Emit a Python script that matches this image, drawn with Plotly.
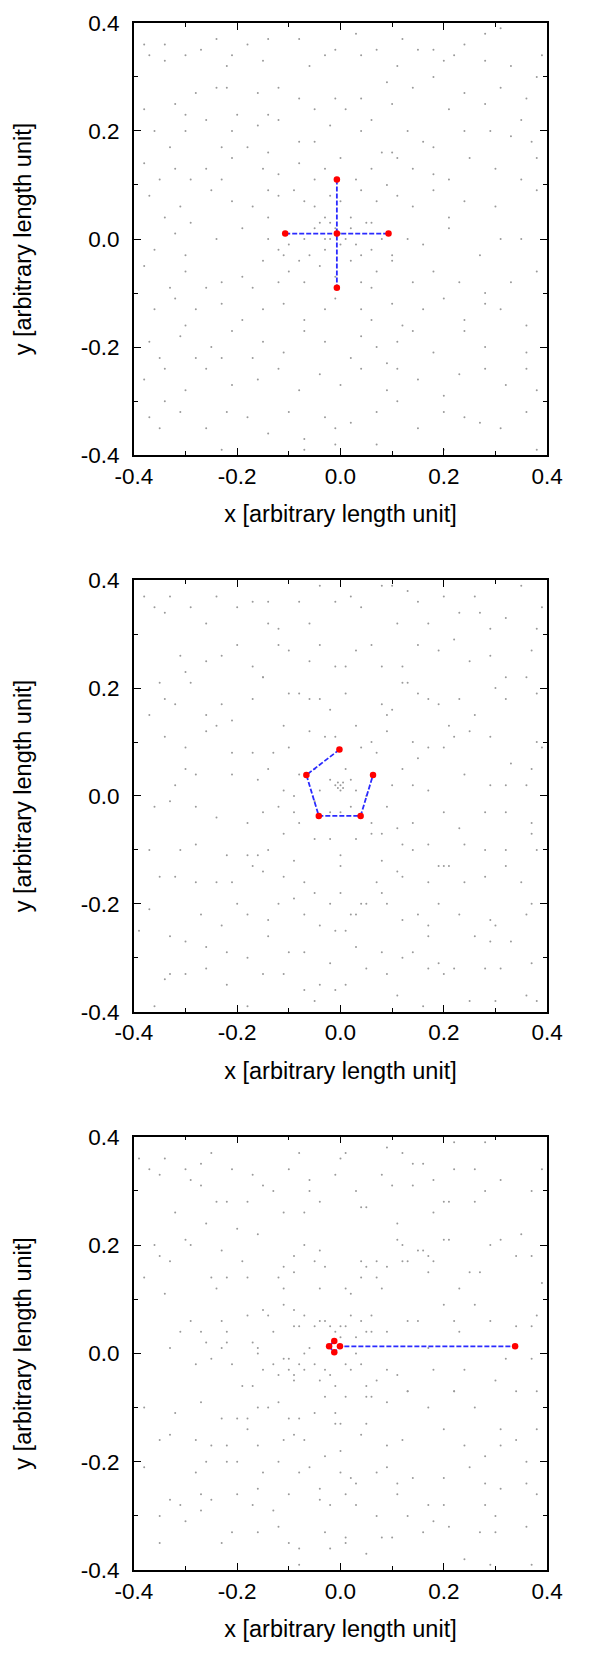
import plotly.graph_objects as go

# ---------------- data ----------------
tick_vals = [-0.4, -0.2, 0.0, 0.2, 0.4]
tick_text = ["-0.4", "-0.2", "0.0", "0.2", "0.4"]
minor_vals = [-0.3, -0.1, 0.1, 0.3]
x_title = "x [arbitrary length unit]"
y_title = "y [arbitrary length unit]"

# red points and the paths (index sequences) joining them with dashed lines
pts1_x = [-0.107, -0.007, 0.093, -0.007, -0.007]
pts1_y = [0.010, 0.010, 0.010, 0.110, -0.090]
path1 = [[0, 1, 2], [3, 1, 4]]

pts2_x = [-0.002, -0.066, -0.042, 0.039, 0.063]
pts2_y = [0.086, 0.039, -0.037, -0.037, 0.039]
path2 = [[0, 1, 2, 3, 4]]

pts3_x = [-0.012, -0.022, -0.012, -0.001, 0.338]
pts3_y = [0.023, 0.013, 0.002, 0.013, 0.013]
path3 = [[0, 1, 2, 3, 4]]

# background particles (gray dots), panel 1
dots1 = [
    (-0.38, 0.36), (-0.34, 0.36), (-0.27, 0.35), (-0.24, 0.37), (-0.21, 0.34), (-0.18, 0.36), (-0.14, 0.37),
    (-0.08, 0.37), (-0.01, 0.35), (0.03, 0.38), (0.07, 0.35), (0.12, 0.37), (0.15, 0.35), (0.18, 0.35),
    (0.24, 0.36), (0.28, 0.38), (0.31, 0.39), (0.39, 0.34), (-0.37, 0.34), (-0.34, 0.33), (-0.30, 0.34),
    (-0.22, 0.32), (-0.15, 0.33), (-0.06, 0.32), (-0.03, 0.34), (0.04, 0.34), (0.11, 0.32), (0.20, 0.33),
    (0.22, 0.34), (0.28, 0.33), (0.38, 0.30), (0.33, 0.32),
    (-0.24, 0.28), (-0.22, 0.28), (-0.28, 0.27), (-0.32, 0.25), (-0.16, 0.27), (-0.12, 0.28), (-0.08, 0.26),
    (-0.01, 0.26), (0.04, 0.26), (0.09, 0.29), (0.14, 0.28), (0.18, 0.30), (0.24, 0.27), (0.31, 0.28),
    (0.36, 0.26), (-0.20, 0.23), (-0.14, 0.23), (-0.05, 0.24), (0.01, 0.24), (0.06, 0.22), (0.10, 0.25),
    (0.21, 0.24), (0.28, 0.25), (0.35, 0.22), (-0.30, 0.23), (-0.38, 0.24),
    (-0.30, 0.20), (-0.26, 0.22), (-0.21, 0.20), (-0.16, 0.21), (-0.12, 0.22), (-0.08, 0.18), (-0.05, 0.18),
    (-0.02, 0.21), (0.04, 0.20), (0.08, 0.16), (0.10, 0.16), (0.13, 0.20), (0.16, 0.18), (0.18, 0.17),
    (0.24, 0.20), (0.29, 0.20), (0.33, 0.19), (0.37, 0.18), (-0.36, 0.20), (-0.33, 0.17), (-0.23, 0.17),
    (-0.18, 0.17), (-0.14, 0.16),
    (-0.38, 0.14), (-0.32, 0.13), (-0.26, 0.13), (-0.23, 0.11), (-0.21, 0.15), (-0.15, 0.13), (-0.12, 0.12),
    (-0.08, 0.14), (-0.05, 0.11), (-0.03, 0.13), (0.00, 0.15), (0.03, 0.11), (0.06, 0.13), (0.09, 0.10),
    (0.11, 0.15), (0.14, 0.13), (0.18, 0.12), (0.21, 0.11), (0.25, 0.15), (0.30, 0.13), (0.35, 0.11),
    (0.38, 0.15), (-0.35, 0.11), (-0.29, 0.11),
    (-0.37, 0.08), (-0.31, 0.06), (-0.25, 0.09), (-0.21, 0.07), (-0.17, 0.06), (-0.14, 0.04), (-0.12, 0.08),
    (-0.09, 0.09), (-0.07, 0.07), (-0.05, 0.06), (-0.03, 0.04), (-0.02, 0.08), (0.00, 0.07), (0.02, 0.04),
    (0.04, 0.09), (0.06, 0.03), (0.07, 0.07), (0.11, 0.08), (0.14, 0.06), (0.18, 0.09), (0.21, 0.04),
    (0.24, 0.07), (0.30, 0.06), (0.38, 0.09), (-0.34, 0.04), (-0.29, 0.03), (-0.14, 0.09),
    (-0.32, 0.01), (-0.24, 0.00), (-0.19, 0.02), (-0.14, 0.00), (-0.12, -0.02), (-0.10, -0.01), (-0.07, 0.00),
    (-0.06, -0.03), (-0.05, 0.02), (-0.03, 0.00), (-0.03, -0.02), (0.00, -0.01), (0.02, 0.02), (0.04, -0.03),
    (0.05, 0.03), (0.08, 0.00), (0.10, -0.03), (0.13, 0.00), (0.16, -0.01), (0.21, 0.02), (0.27, -0.03),
    (0.31, 0.00), (0.35, 0.00), (-0.30, -0.03), (-0.36, -0.02), (-0.08, -0.04), (-0.11, -0.03), (-0.02, 0.03),
    (0.00, 0.01), (0.03, -0.01), (0.06, -0.02), (-0.01, 0.02), (-0.02, 0.00), (0.01, 0.00), (-0.04, 0.03),
    (-0.38, -0.05), (-0.30, -0.06), (-0.23, -0.08), (-0.19, -0.07), (-0.15, -0.04), (-0.12, -0.08),
    (-0.10, -0.06), (-0.07, -0.08), (-0.04, -0.05), (-0.01, -0.07), (0.02, -0.04), (0.04, -0.08),
    (0.07, -0.06), (0.10, -0.04), (0.14, -0.08), (0.18, -0.06), (0.23, -0.08), (0.28, -0.10), (0.33, -0.08),
    (0.38, -0.06), (-0.33, -0.09), (-0.26, -0.09), (-0.17, -0.09), (0.06, -0.09),
    (-0.36, -0.13), (-0.32, -0.11), (-0.28, -0.13), (-0.23, -0.12), (-0.19, -0.15), (-0.15, -0.13),
    (-0.11, -0.12), (-0.07, -0.15), (-0.03, -0.13), (-0.01, -0.11), (0.04, -0.13), (0.06, -0.15),
    (0.10, -0.12), (0.12, -0.16), (0.16, -0.13), (0.20, -0.11), (0.24, -0.15), (0.28, -0.12), (0.31, -0.13),
    (0.36, -0.16), (-0.30, -0.16),
    (-0.37, -0.19), (-0.31, -0.18), (-0.28, -0.22), (-0.25, -0.20), (-0.21, -0.17), (-0.15, -0.19),
    (-0.11, -0.21), (-0.07, -0.17), (-0.03, -0.19), (0.02, -0.22), (0.04, -0.18), (0.07, -0.20),
    (0.11, -0.19), (0.14, -0.17), (0.18, -0.21), (0.24, -0.17), (0.28, -0.20), (0.36, -0.21), (-0.35, -0.22),
    (-0.23, -0.22), (-0.17, -0.22), (0.09, -0.23),
    (-0.38, -0.26), (-0.34, -0.24), (-0.30, -0.28), (-0.26, -0.24), (-0.21, -0.27), (-0.16, -0.26),
    (-0.12, -0.24), (-0.08, -0.28), (-0.04, -0.25), (0.00, -0.27), (0.04, -0.24), (0.09, -0.28),
    (0.11, -0.24), (0.15, -0.26), (0.20, -0.29), (0.23, -0.25), (0.28, -0.24), (0.32, -0.27), (0.36, -0.24),
    (0.38, -0.28), (-0.34, -0.30),
    (-0.37, -0.33), (-0.31, -0.32), (-0.26, -0.35), (-0.22, -0.32), (-0.18, -0.33), (-0.14, -0.36),
    (-0.10, -0.32), (-0.07, -0.37), (-0.03, -0.33), (-0.01, -0.35), (0.02, -0.34), (0.07, -0.32),
    (0.11, -0.30), (0.15, -0.35), (0.20, -0.32), (0.24, -0.33), (0.27, -0.34), (0.31, -0.35), (0.36, -0.32),
    (0.38, -0.39), (-0.35, -0.35), (-0.23, -0.39), (-0.07, -0.39), (-0.01, -0.38), (0.07, -0.38), (0.20, -0.39),
]

# background particles, panel 2
dots2 = [
    (-0.38, 0.37), (-0.33, 0.37), (-0.36, 0.35), (-0.34, 0.34), (-0.29, 0.35), (-0.26, 0.32), (-0.24, 0.37),
    (-0.20, 0.35), (-0.17, 0.36), (-0.14, 0.36), (-0.14, 0.32), (-0.12, 0.31), (-0.08, 0.36), (-0.06, 0.32),
    (-0.04, 0.39), (-0.01, 0.36), (0.02, 0.37), (0.04, 0.35), (0.08, 0.39), (0.10, 0.39), (0.11, 0.32),
    (0.13, 0.38), (0.15, 0.36), (0.17, 0.32), (0.20, 0.37), (0.23, 0.34), (0.26, 0.37), (0.27, 0.34),
    (0.29, 0.31), (0.32, 0.33), (0.35, 0.39), (0.38, 0.31), (0.39, 0.35),
    (-0.31, 0.26), (-0.30, 0.23), (-0.26, 0.25), (-0.23, 0.26), (-0.20, 0.28), (-0.17, 0.24), (-0.15, 0.22),
    (-0.12, 0.28), (-0.10, 0.27), (-0.06, 0.25), (-0.04, 0.28), (-0.01, 0.24), (0.01, 0.24), (0.03, 0.27),
    (0.06, 0.28), (0.08, 0.24), (0.12, 0.24), (0.15, 0.28), (0.19, 0.27), (0.22, 0.29), (0.25, 0.25),
    (0.29, 0.26), (0.32, 0.22), (0.36, 0.22), (0.37, 0.27),
    (-0.35, 0.21), (-0.34, 0.18), (-0.32, 0.17), (-0.29, 0.21), (-0.26, 0.15), (-0.24, 0.13), (-0.23, 0.17),
    (-0.21, 0.14), (-0.17, 0.18), (-0.15, 0.22), (-0.10, 0.19), (-0.08, 0.19), (-0.06, 0.18), (-0.04, 0.18),
    (-0.02, 0.16), (0.01, 0.19), (0.03, 0.13), (0.08, 0.17), (0.09, 0.15), (0.10, 0.16), (0.12, 0.21),
    (0.13, 0.21), (0.15, 0.19), (0.17, 0.18), (0.19, 0.17), (0.21, 0.13), (0.23, 0.18), (0.26, 0.15),
    (0.30, 0.20), (0.32, 0.18), (0.38, 0.19),
    (-0.37, 0.15), (-0.34, 0.11), (-0.30, 0.09), (-0.26, 0.12), (-0.21, 0.08), (-0.17, 0.08), (-0.13, 0.08),
    (-0.11, 0.13), (-0.10, 0.09), (-0.06, 0.12), (-0.03, 0.11), (-0.01, 0.11), (0.04, 0.09), (0.06, 0.10),
    (0.07, 0.08), (0.09, 0.12), (0.14, 0.10), (0.15, 0.07), (0.17, 0.09), (0.20, 0.09), (0.22, 0.11),
    (0.25, 0.12), (0.29, 0.11), (0.33, 0.06), (0.38, 0.10), (0.39, 0.09),
    (-0.32, 0.02), (-0.30, 0.05), (-0.28, 0.04), (-0.21, 0.04), (-0.16, 0.03), (-0.14, 0.05), (-0.11, 0.01),
    (-0.09, 0.00), (-0.08, 0.04), (-0.05, 0.05), (-0.04, 0.01), (-0.02, 0.03), (-0.01, 0.02), (0.00, 0.02),
    (0.00, 0.01), (0.01, 0.05), (0.02, 0.03), (0.03, 0.01), (0.05, 0.00), (0.10, 0.02), (0.12, 0.05),
    (0.14, 0.02), (0.17, 0.01), (0.24, 0.04), (0.29, 0.02), (0.32, 0.02), (0.36, 0.02), (0.37, 0.05),
    (-0.005, 0.015), (0.005, 0.025), (-0.005, 0.025), (0.005, 0.015),
    (-0.36, -0.02), (-0.33, -0.01), (-0.28, -0.02), (-0.24, -0.04), (-0.18, -0.05), (-0.15, -0.03),
    (-0.12, -0.02), (-0.09, -0.03), (-0.08, -0.05), (-0.05, -0.01), (-0.02, -0.03), (0.00, -0.03),
    (0.02, -0.02), (0.06, -0.05), (0.08, -0.07), (0.09, -0.02), (0.11, -0.06), (0.14, -0.05), (0.20, -0.03),
    (0.23, -0.06), (0.28, -0.03), (0.32, -0.03), (0.37, -0.05), (0.37, -0.07),
    (-0.37, -0.10), (-0.31, -0.10), (-0.28, -0.09), (-0.22, -0.11), (-0.18, -0.11), (-0.16, -0.11),
    (-0.14, -0.10), (-0.11, -0.07), (-0.09, -0.12), (-0.05, -0.08), (-0.02, -0.08), (0.00, -0.11),
    (0.00, -0.13), (0.03, -0.08), (0.06, -0.07), (0.08, -0.12), (0.12, -0.09), (0.14, -0.10), (0.17, -0.09),
    (0.20, -0.13), (0.24, -0.09), (0.28, -0.10), (0.32, -0.10), (0.38, -0.10),
    (-0.35, -0.15), (-0.32, -0.15), (-0.28, -0.16), (-0.24, -0.16), (-0.21, -0.16), (-0.17, -0.13),
    (-0.15, -0.14), (-0.11, -0.15), (-0.07, -0.16), (-0.05, -0.18), (-0.02, -0.20), (0.00, -0.18),
    (0.02, -0.22), (0.04, -0.20), (0.07, -0.16), (0.11, -0.14), (0.12, -0.15), (0.17, -0.16), (0.19, -0.13),
    (0.21, -0.13), (0.24, -0.16), (0.28, -0.15), (0.32, -0.13), (0.35, -0.16), (0.37, -0.20),
    (-0.37, -0.21), (-0.27, -0.22), (-0.23, -0.24), (-0.20, -0.20), (-0.18, -0.22), (-0.14, -0.23),
    (-0.12, -0.20), (-0.09, -0.19), (-0.07, -0.22), (-0.04, -0.24), (-0.01, -0.25), (0.03, -0.22),
    (0.05, -0.20), (0.08, -0.18), (0.09, -0.20), (0.12, -0.23), (0.15, -0.22), (0.17, -0.24), (0.19, -0.20),
    (0.23, -0.22), (0.29, -0.23), (0.30, -0.24), (0.36, -0.22),
    (-0.39, -0.25), (-0.33, -0.26), (-0.30, -0.27), (-0.26, -0.28), (-0.22, -0.29), (-0.18, -0.30),
    (-0.14, -0.26), (-0.10, -0.29), (-0.07, -0.29), (-0.02, -0.31), (0.01, -0.25), (0.03, -0.28),
    (0.08, -0.29), (0.12, -0.30), (0.14, -0.29), (0.17, -0.26), (0.19, -0.31), (0.22, -0.32), (0.26, -0.26),
    (0.29, -0.27), (0.33, -0.27), (0.37, -0.31),
    (-0.34, -0.34), (-0.33, -0.33), (-0.30, -0.33), (-0.26, -0.32), (-0.22, -0.35), (-0.15, -0.33),
    (-0.11, -0.33), (-0.07, -0.36), (-0.04, -0.35), (-0.01, -0.36), (0.01, -0.35), (0.05, -0.32),
    (0.09, -0.33), (0.11, -0.37), (0.17, -0.32), (0.20, -0.33), (0.25, -0.38), (0.28, -0.32), (0.31, -0.32),
    (0.36, -0.37), (0.38, -0.38), (-0.36, -0.39), (-0.18, -0.39), (-0.05, -0.38), (0.16, -0.39), (0.30, -0.38),
]

# background particles, panel 3
dots3 = [
    (-0.39, 0.36), (-0.37, 0.34), (-0.35, 0.33), (-0.34, 0.36), (-0.32, 0.26), (-0.30, 0.34), (-0.29, 0.32),
    (-0.27, 0.35), (-0.27, 0.31), (-0.26, 0.24), (-0.25, 0.37), (-0.24, 0.28), (-0.22, 0.28), (-0.21, 0.34),
    (-0.20, 0.23), (-0.18, 0.28), (-0.17, 0.33), (-0.15, 0.31), (-0.13, 0.30), (-0.11, 0.26), (-0.10, 0.34),
    (-0.08, 0.37), (-0.07, 0.26), (-0.06, 0.32), (-0.06, 0.30), (-0.04, 0.28), (-0.01, 0.33), (0.00, 0.36),
    (0.01, 0.37), (0.03, 0.30), (0.04, 0.27), (0.05, 0.27), (0.08, 0.33), (0.09, 0.38), (0.10, 0.31),
    (0.12, 0.37), (0.11, 0.24), (0.14, 0.35), (0.14, 0.31), (0.16, 0.35), (0.18, 0.32), (0.18, 0.26),
    (0.20, 0.28), (0.21, 0.28), (0.22, 0.34), (0.22, 0.39), (0.26, 0.34), (0.26, 0.28), (0.28, 0.30),
    (0.28, 0.39), (0.31, 0.32), (0.31, 0.21), (0.37, 0.30), (0.39, 0.34), (0.35, 0.22),
    (-0.36, 0.20), (-0.35, 0.18), (-0.33, 0.17), (-0.30, 0.21), (-0.29, 0.20), (-0.25, 0.14), (-0.24, 0.12),
    (-0.23, 0.19), (-0.22, 0.14), (-0.19, 0.17), (-0.18, 0.14), (-0.16, 0.22), (-0.12, 0.14), (-0.11, 0.16),
    (-0.09, 0.18), (-0.09, 0.15), (-0.07, 0.20), (-0.05, 0.17), (-0.04, 0.19), (-0.03, 0.16), (-0.04, 0.12),
    (0.01, 0.12), (0.02, 0.11), (0.04, 0.14), (0.04, 0.17), (0.05, 0.16), (0.07, 0.17), (0.07, 0.14),
    (0.08, 0.12), (0.09, 0.16), (0.11, 0.21), (0.12, 0.20), (0.12, 0.17), (0.13, 0.17), (0.15, 0.19),
    (0.16, 0.19), (0.17, 0.15), (0.17, 0.18), (0.18, 0.17), (0.20, 0.21), (0.21, 0.21), (0.23, 0.12),
    (0.25, 0.15), (0.27, 0.15), (0.29, 0.20), (0.34, 0.18), (0.37, 0.18), (0.39, 0.13),
    (-0.38, 0.14), (-0.34, 0.11), (-0.31, 0.04), (-0.29, 0.06), (-0.27, 0.04), (-0.26, 0.02), (-0.23, 0.06),
    (-0.22, 0.04), (-0.22, 0.02), (-0.18, 0.07), (-0.17, 0.02), (-0.16, 0.01), (-0.15, 0.08), (-0.14, 0.07),
    (-0.13, 0.04), (-0.11, 0.12), (-0.11, 0.09), (-0.09, 0.08), (-0.09, 0.05), (-0.08, 0.05), (-0.07, 0.07),
    (-0.05, 0.05), (-0.04, 0.06), (-0.03, 0.06), (-0.02, 0.05), (-0.01, 0.04), (0.00, 0.05), (0.00, 0.03),
    (0.01, 0.05), (0.02, 0.07), (0.03, 0.03), (0.04, 0.06), (0.05, 0.04), (0.06, 0.04), (0.06, 0.07),
    (0.09, 0.04), (0.13, 0.06), (0.15, 0.06), (0.20, 0.09), (0.22, 0.06), (0.23, 0.04), (0.26, 0.09),
    (0.29, 0.06), (0.34, 0.05), (0.37, 0.05), (0.38, 0.07),
    (-0.33, 0.01), (-0.28, -0.02), (-0.25, -0.01), (-0.23, 0.01), (-0.21, -0.02), (-0.19, -0.06),
    (-0.17, -0.06), (-0.16, 0.00), (-0.15, -0.03), (-0.13, -0.02), (-0.12, -0.04), (-0.11, -0.01),
    (-0.10, -0.03), (-0.10, -0.01), (-0.09, -0.04), (-0.09, -0.05), (-0.08, -0.02), (-0.07, 0.00),
    (-0.07, -0.03), (-0.06, 0.01), (-0.05, -0.02), (-0.04, -0.05), (-0.03, -0.03), (-0.02, -0.04),
    (-0.01, 0.00), (-0.01, -0.06), (0.01, -0.02), (0.02, -0.03), (0.03, 0.00), (0.04, -0.02), (0.05, -0.06),
    (0.06, -0.08), (0.07, -0.05), (0.09, -0.03), (0.11, -0.04), (0.13, -0.07), (0.17, 0.01), (0.18, -0.03),
    (0.22, -0.07), (0.24, -0.03), (0.30, -0.05), (0.32, -0.01), (0.34, -0.07), (0.37, -0.01),
    (-0.38, -0.10), (-0.32, -0.11), (-0.27, -0.09), (-0.23, -0.12), (-0.20, -0.12), (-0.18, -0.12),
    (-0.16, -0.10), (-0.14, -0.10), (-0.12, -0.09), (-0.10, -0.12), (-0.08, -0.12), (-0.05, -0.11),
    (-0.03, -0.08), (-0.01, -0.11), (0.00, -0.13), (0.01, -0.08), (0.05, -0.08), (0.05, -0.13), (0.09, -0.09),
    (0.13, -0.07), (0.17, -0.10), (0.22, -0.07), (0.26, -0.10), (0.31, -0.14), (0.38, -0.07),
    (-0.35, -0.16), (-0.33, -0.15), (-0.28, -0.16), (-0.25, -0.17), (-0.22, -0.17), (-0.18, -0.14),
    (-0.16, -0.17), (-0.11, -0.16), (-0.09, -0.15), (-0.07, -0.16), (-0.01, -0.13), (0.00, -0.18),
    (0.04, -0.15), (0.09, -0.17), (0.12, -0.16), (0.20, -0.14), (0.24, -0.17), (0.28, -0.19), (0.31, -0.17),
    (0.34, -0.16), (0.38, -0.14),
    (-0.38, -0.21), (-0.28, -0.22), (-0.26, -0.20), (-0.22, -0.20), (-0.20, -0.20), (-0.15, -0.22),
    (-0.12, -0.20), (-0.08, -0.22), (-0.06, -0.21), (-0.03, -0.19), (0.00, -0.22), (0.02, -0.23),
    (0.03, -0.24), (0.07, -0.22), (0.09, -0.21), (0.11, -0.24), (0.14, -0.23), (0.20, -0.23), (0.25, -0.21),
    (0.28, -0.24), (0.31, -0.25), (0.36, -0.20), (0.36, -0.24),
    (-0.33, -0.27), (-0.31, -0.28), (-0.27, -0.26), (-0.25, -0.27), (-0.20, -0.26), (-0.17, -0.28),
    (-0.16, -0.25), (-0.13, -0.29), (-0.10, -0.26), (-0.04, -0.25), (-0.04, -0.27), (-0.02, -0.28),
    (0.01, -0.26), (0.03, -0.28), (0.07, -0.30), (0.11, -0.26), (0.13, -0.30), (0.17, -0.28), (0.20, -0.28),
    (0.28, -0.28), (0.30, -0.30), (0.38, -0.26),
    (-0.35, -0.30), (-0.30, -0.31), (-0.27, -0.29), (-0.21, -0.33), (-0.16, -0.33), (-0.12, -0.32),
    (-0.10, -0.35), (-0.08, -0.36), (-0.03, -0.33), (-0.02, -0.36), (0.01, -0.35), (0.01, -0.34),
    (0.10, -0.34), (0.16, -0.33), (0.18, -0.31), (0.21, -0.32), (0.27, -0.33), (0.30, -0.33), (0.36, -0.32),
    (-0.35, -0.35), (-0.23, -0.35), (-0.08, -0.39), (0.05, -0.37), (0.08, -0.34), (0.24, -0.38),
    (0.29, -0.39), (0.37, -0.39),
]

panels = [
    (dots1, pts1_x, pts1_y, path1),
    (dots2, pts2_x, pts2_y, path2),
    (dots3, pts3_x, pts3_y, path3),
]

# ---------------- layout (pixels of the 597 x 1654 page) ----------------
W, H = 597, 1654
plot_left, plot_right = 122, 561
plot_tops = [11, 577, 1142]
plot_bottoms = [450, 1015, 1582]

FONT = "Liberation Sans, Arial, Helvetica, sans-serif"

fig = go.Figure()

for i, (dots, px, py, paths) in enumerate(panels):
    sfx = "" if i == 0 else str(i + 1)
    xa, ya = "x" + sfx, "y" + sfx
    dx = [d[0] for d in dots]
    dy = [d[1] for d in dots]
    fig.add_trace(go.Scatter(
        x=dx, y=dy, mode="markers", xaxis=xa, yaxis=ya,
        marker=dict(size=2, color="#9a9a9a", line=dict(width=0)),
        hoverinfo="skip", showlegend=False))
    lx, ly = [], []
    for seg in paths:
        for k in seg:
            lx.append(px[k])
            ly.append(py[k])
        lx.append(None)
        ly.append(None)
    fig.add_trace(go.Scatter(
        x=lx, y=ly, mode="lines", xaxis=xa, yaxis=ya,
        line=dict(color="#2b2bff", width=1.8, dash="5px,2px"),
        hoverinfo="skip", showlegend=False))
    fig.add_trace(go.Scatter(
        x=px, y=py, mode="markers", xaxis=xa, yaxis=ya,
        marker=dict(size=6.5, color="#ff0000", line=dict(width=0)),
        hoverinfo="skip", showlegend=False))

    common = dict(
        range=[-0.4, 0.4], tickmode="array", tickvals=tick_vals, ticktext=tick_text,
        ticks="inside", ticklen=7, tickwidth=1, tickcolor="black",
        showline=True, linecolor="black", linewidth=1.5, mirror="ticks",
        showgrid=False, zeroline=False, fixedrange=True,
        minor=dict(tickmode="array", tickvals=minor_vals, ticks="inside", ticklen=4,
                   tickwidth=1, tickcolor="black", showgrid=False),
        tickfont=dict(family=FONT, size=22.5, color="black"),
    )
    xdom = [plot_left / W, plot_right / W]
    ydom = [1 - plot_bottoms[i] / H, 1 - plot_tops[i] / H]
    fig.update_layout({
        "xaxis" + sfx: dict(common, domain=xdom, anchor=ya,
                            title=dict(text=x_title, standoff=18,
                                       font=dict(family=FONT, size=23.5, color="black"))),
        "yaxis" + sfx: dict(common, domain=ydom, anchor=xa, ticklabelstandoff=8,
                            title=dict(text=y_title, standoff=43,
                                       font=dict(family=FONT, size=23.5, color="black"))),
    })

fig.update_layout(
    width=W, height=H, margin=dict(l=0, r=0, t=0, b=0),
    paper_bgcolor="white", plot_bgcolor="white", showlegend=False,
)

fig.write_html("out.html", config={"displayModeBar": False})
